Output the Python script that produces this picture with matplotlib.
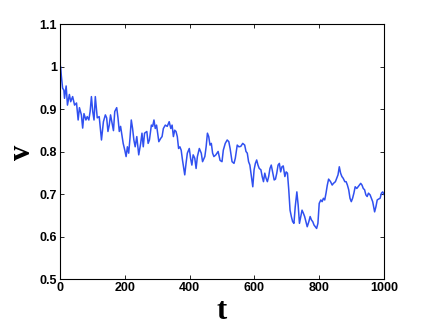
import matplotlib
matplotlib.use('Agg')
import matplotlib.pyplot as plt
from matplotlib.ticker import FuncFormatter

# values
t = [0, 2, 4, 8, 12, 14, 19, 23, 29, 33, 39, 45, 51, 56, 60, 66, 70, 74, 80, 84,
     89, 93, 97, 101, 105, 109, 115, 121, 128, 134, 140, 144, 148, 152, 156, 160,
     165, 169, 175, 179, 183, 187, 191, 195, 200, 204, 208, 212, 216, 220, 224,
     228, 232, 237, 243, 249, 253, 257, 261, 268, 272, 276, 282, 286, 290, 294,
     298, 305, 311, 315, 319, 325, 331, 337, 342, 346, 350, 354, 358, 362, 366,
     370, 374, 378, 385, 389, 393, 399, 403, 407, 411, 416, 420, 424, 430, 436,
     440, 447, 451, 455, 459, 463, 467, 471, 475, 481, 488, 494, 500, 504, 510,
     516, 521, 525, 531, 537, 541, 547, 552, 558, 564, 570, 574, 578, 582, 586,
     590, 595, 599, 603, 607, 611, 615, 620, 624, 628, 632, 636, 640, 644, 648,
     652, 656, 661, 665, 669, 673, 677, 681, 685, 689, 694, 698, 702, 706, 710,
     714, 718, 722, 726, 731, 735, 739, 743, 747, 751, 755, 759, 763, 768, 772,
     776, 780, 784, 788, 792, 796, 800, 805, 809, 813, 817, 821, 825, 829, 831,
     835, 840, 844, 850, 854, 858, 862, 866, 870, 874, 879, 883, 887, 891, 895,
     899, 903, 907, 911, 916, 920, 924, 928, 932, 936, 940, 944, 948, 952, 957,
     961, 965, 971, 975, 979, 983, 988, 992, 996, 1000]
v = [1.005, 1.0, 0.98, 0.95, 0.945, 0.926, 0.955, 0.91, 0.935, 0.918, 0.93, 0.91,
     0.915, 0.875, 0.904, 0.887, 0.856, 0.89, 0.875, 0.883, 0.875, 0.895, 0.93,
     0.895, 0.875, 0.93, 0.88, 0.883, 0.828, 0.871, 0.887, 0.88, 0.848, 0.863,
     0.887, 0.87, 0.85, 0.895, 0.904, 0.88, 0.848, 0.86, 0.84, 0.82, 0.804,
     0.789, 0.812, 0.797, 0.832, 0.875, 0.855, 0.828, 0.812, 0.836, 0.793, 0.82,
     0.844, 0.812, 0.844, 0.848, 0.82, 0.828, 0.863, 0.86, 0.875, 0.855, 0.863,
     0.824, 0.832, 0.836, 0.855, 0.863, 0.86, 0.871, 0.855, 0.863, 0.836, 0.851,
     0.848, 0.836, 0.808, 0.812, 0.804, 0.781, 0.746, 0.773, 0.797, 0.808, 0.785,
     0.769, 0.793, 0.785, 0.761, 0.789, 0.808, 0.797, 0.777, 0.789, 0.812, 0.844,
     0.836, 0.816, 0.82, 0.797, 0.789, 0.793, 0.801, 0.78, 0.777, 0.804, 0.82,
     0.828, 0.824, 0.808, 0.777, 0.773, 0.785, 0.816, 0.812, 0.813, 0.82, 0.816,
     0.801, 0.797, 0.777, 0.769, 0.746, 0.718, 0.758, 0.773, 0.781, 0.769, 0.761,
     0.758, 0.742, 0.73, 0.75, 0.738, 0.73, 0.742, 0.761, 0.769, 0.753, 0.734,
     0.736, 0.75, 0.769, 0.773, 0.753, 0.765, 0.767, 0.742, 0.753, 0.75, 0.711,
     0.663, 0.648, 0.636, 0.632, 0.671, 0.706, 0.675, 0.632, 0.648, 0.663, 0.656,
     0.648, 0.636, 0.624, 0.636, 0.648, 0.64, 0.636, 0.628, 0.624, 0.62, 0.632,
     0.679, 0.687, 0.683, 0.691, 0.687, 0.703, 0.722, 0.736, 0.734, 0.73, 0.722,
     0.726, 0.73, 0.738, 0.746, 0.765, 0.75, 0.742, 0.738, 0.73, 0.73, 0.722,
     0.711, 0.691, 0.683, 0.691, 0.703, 0.718, 0.714, 0.718, 0.722, 0.726, 0.722,
     0.714, 0.711, 0.699, 0.695, 0.703, 0.699, 0.691, 0.683, 0.659, 0.671, 0.687,
     0.689, 0.691, 0.703, 0.706, 0.70]

x_ticks = [0, 200, 400, 600, 800, 1000]
y_ticks = [0.5, 0.6, 0.7, 0.8, 0.9, 1.0, 1.1]

fig = plt.figure(figsize=(4.24, 3.27), dpi=100)
ax = fig.add_axes([0.1415, 0.1453, 0.7642, 0.7804])

ax.plot(t, v, color='#3050f0', linewidth=1.1)

ax.set_xlim(0, 1000)
ax.set_ylim(0.5, 1.1)
ax.set_xticks(x_ticks)
ax.set_yticks(y_ticks)
ax.yaxis.set_major_formatter(FuncFormatter(lambda y, pos: '%g' % round(y, 2)))

ax.tick_params(direction='in', top=True, right=True, length=3, width=0.6,
               labelsize=9, pad=2)
for lbl in ax.get_xticklabels() + ax.get_yticklabels():
    lbl.set_fontweight('bold')
    lbl.set_family('Liberation Sans')
for s in ax.spines.values():
    s.set_linewidth(0.8)

ax.set_xlabel('t', family='Liberation Serif', fontweight='bold', fontsize=22, labelpad=2)
ax.set_ylabel('v', family='Liberation Serif', fontweight='bold', fontsize=22, labelpad=2)

fig.savefig('out.png', dpi=100)
